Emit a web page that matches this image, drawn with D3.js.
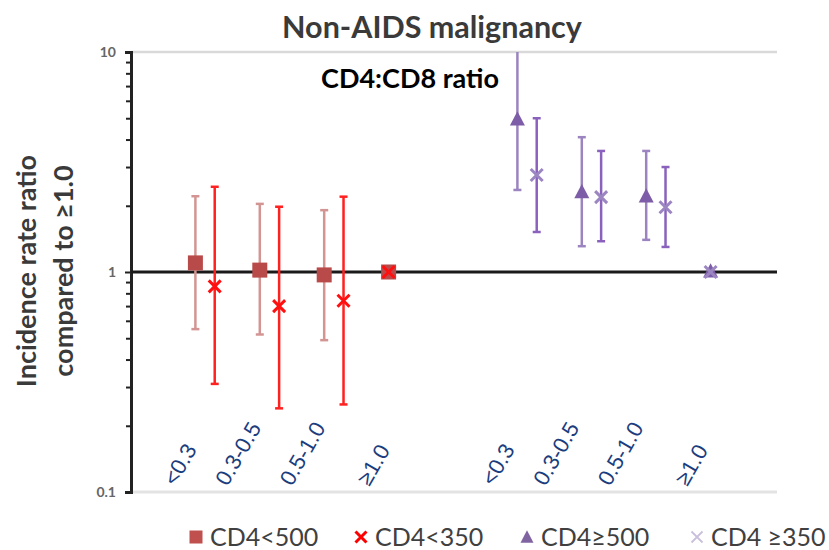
<!DOCTYPE html>
<html>
<head>
<meta charset="utf-8">
<script src="https://cdn.jsdelivr.net/npm/d3@7/dist/d3.min.js"></script>
<style>
  html, body { margin: 0; padding: 0; background: #fff; }
  svg { display: block; }
</style>
</head>
<body>
<svg id="chart" width="829" height="550"></svg>
<script>
// CD4:CD8 ratio groups, shown once per CD4 stratum pair
const ratioGroups = ["<0.3", "0.3-0.5", "0.5-1.0", "≥1.0"];

// Incidence rate ratios (reference group ≥1.0 has no interval)
const cd4Below500Est = [1.10, 1.02, 0.97, 1.0];
const cd4Below500Lo  = [0.55, 0.52, 0.49, null];
const cd4Below500Hi  = [2.21, 2.04, 1.91, null];

const cd4Below350Est = [0.86, 0.70, 0.74, 1.0];
const cd4Below350Lo  = [0.31, 0.24, 0.25, null];
const cd4Below350Hi  = [2.44, 1.98, 2.20, null];

const cd4Above500Est = [4.90, 2.29, 2.19, 1.0];
const cd4Above500Lo  = [2.36, 1.31, 1.40, null];
const cd4Above500Hi  = [10.5, 4.10, 3.55, null];

const cd4Above350Est = [2.76, 2.19, 1.97, 1.0];
const cd4Above350Lo  = [1.52, 1.38, 1.30, null];
const cd4Above350Hi  = [5.00, 3.55, 3.00, null];

const yTickValues = [0.1, 1, 10];
const yTickLabels = ["0.1", "1", "10"];

const series = [
  { name: "CD4<500", est: cd4Below500Est, lo: cd4Below500Lo, hi: cd4Below500Hi,
    block: 0, shift: 0, symbol: "square", fill: "#b84b49", bar: "#d39593" },
  { name: "CD4<350", est: cd4Below350Est, lo: cd4Below350Lo, hi: cd4Below350Hi,
    block: 0, shift: 0.3, symbol: "cross", fill: "#ff1010", bar: "#ff2020" },
  { name: "CD4≥500", est: cd4Above500Est, lo: cd4Above500Lo, hi: cd4Above500Hi,
    block: 1, shift: 0, symbol: "triangle", fill: "#7d5ca8", bar: "#9b84bf" },
  { name: "CD4 ≥350", est: cd4Above350Est, lo: cd4Above350Lo, hi: cd4Above350Hi,
    block: 1, shift: 0.3, symbol: "cross", fill: "#9c86c2", bar: "#8a62bd" }
];
const legendColors = ["#c0504d", "#ff0000", "#8064a2", "#cbc0dc"];

const svg = d3.select("#chart");
const plot = { left: 131, right: 777, top: 52, bottom: 492 };

// slots 1-4 hold the first block, 6-9 the second
const x = d3.scaleLinear().domain([0, 10]).range([plot.left, plot.left + 644]);
const y = d3.scaleLog().domain([0.1, 10]).range([plot.bottom, plot.top]).clamp(true);
const slot = (block, i) => block * 5 + i + 1;

// horizontal reference lines
svg.append("line")
  .attr("x1", plot.left).attr("x2", plot.right)
  .attr("y1", y(10)).attr("y2", y(10))
  .attr("stroke", "#d9d9d9").attr("stroke-width", 2.5);
svg.append("line")
  .attr("x1", plot.left).attr("x2", plot.right)
  .attr("y1", y(0.1)).attr("y2", y(0.1))
  .attr("stroke", "#e3e3e3").attr("stroke-width", 3);

// y axis: major ticks with labels, minor ticks between
const minorTicks = [];
[0.1, 1].forEach(d => { for (let k = 2; k <= 9; k++) minorTicks.push(d * k); });

const yMinor = svg.append("g")
  .attr("transform", `translate(${plot.left},0)`)
  .call(d3.axisLeft(y).tickValues(minorTicks).tickSize(5).tickFormat(""));
yMinor.select(".domain").remove();
yMinor.selectAll(".tick line").attr("stroke", "#222").attr("stroke-width", 2);

const yAxis = svg.append("g")
  .attr("transform", `translate(${plot.left},0)`)
  .call(d3.axisLeft(y).tickValues(yTickValues).tickSize(6).tickPadding(9)
    .tickFormat((d, i) => yTickLabels[i]));
yAxis.select(".domain").attr("stroke", "#222").attr("stroke-width", 3);
yAxis.selectAll(".tick line").attr("stroke", "#222").attr("stroke-width", 2);
yAxis.selectAll(".tick text")
  .attr("fill", "#666").attr("font-family", "Lato, sans-serif")
  .attr("font-size", 14).attr("font-weight", "bold");

// line at ratio 1
svg.append("line")
  .attr("x1", plot.left).attr("x2", plot.right)
  .attr("y1", y(1)).attr("y2", y(1))
  .attr("stroke", "#1a1a1a").attr("stroke-width", 3);

// confidence intervals
const capHalf = 4;
series.forEach(s => {
  const g = svg.append("g");
  s.est.forEach((v, i) => {
    if (s.lo[i] == null) return;
    const cx = x(slot(s.block, i) + s.shift);
    g.append("line")
      .attr("x1", cx).attr("x2", cx)
      .attr("y1", y(s.lo[i])).attr("y2", y(s.hi[i]))
      .attr("stroke", s.bar).attr("stroke-width", 2.5);
    const caps = [s.lo[i]];
    if (s.hi[i] <= 10) caps.push(s.hi[i]);
    caps.forEach(c => {
      g.append("line")
        .attr("x1", cx - capHalf).attr("x2", cx + capHalf)
        .attr("y1", y(c)).attr("y2", y(c))
        .attr("stroke", s.bar).attr("stroke-width", 2.5);
    });
  });
});

// point markers
function drawMarker(g, kind, cx, cy, size, color) {
  if (kind === "square") {
    g.append("rect")
      .attr("x", cx - size / 2).attr("y", cy - size / 2)
      .attr("width", size).attr("height", size)
      .attr("fill", color);
  } else if (kind === "triangle") {
    const h = size * 0.95;
    g.append("path")
      .attr("d", `M${cx},${cy - h * 0.62} L${cx + size / 2},${cy + h * 0.38} L${cx - size / 2},${cy + h * 0.38}Z`)
      .attr("fill", color);
  } else {
    const r = size / 2;
    g.append("path")
      .attr("d", `M${cx - r},${cy - r}L${cx + r},${cy + r}M${cx - r},${cy + r}L${cx + r},${cy - r}`)
      .attr("stroke", color).attr("stroke-width", 3).attr("fill", "none");
  }
}

series.forEach(s => {
  const g = svg.append("g");
  s.est.forEach((v, i) => {
    const isRef = s.lo[i] == null;
    const cx = x(slot(s.block, i) + (isRef ? 0 : s.shift));
    drawMarker(g, s.symbol, cx, y(v), s.symbol === "cross" ? 12 : 15, s.fill);
  });
});

// category labels along the bottom, rotated
[0, 1].forEach(block => {
  ratioGroups.forEach((lab, i) => {
    const t = svg.append("text")
      .text(lab)
      .attr("font-family", "'Liberation Sans', Arial, sans-serif")
      .attr("font-size", 22)
      .attr("fill", "#1b3d7e");
    const len = t.node().getComputedTextLength();
    const bx = x(slot(block, i)) - len * 0.5 + 2 - block * 4;
    t.attr("transform", `translate(${bx},487) rotate(-60)`);
  });
});

// titles
svg.append("text")
  .attr("x", 432).attr("y", 38)
  .attr("text-anchor", "middle")
  .attr("font-family", "Lato, sans-serif").attr("font-weight", "bold")
  .attr("font-size", 30.5).attr("fill", "#3a3a3a")
  .text("Non-AIDS malignancy");

svg.append("text")
  .attr("x", 410).attr("y", 88)
  .attr("text-anchor", "middle")
  .attr("font-family", "Lato, sans-serif").attr("font-weight", "bold")
  .attr("font-size", 27).attr("fill", "#000")
  .text("CD4:CD8 ratio");

const yTitle = svg.append("text")
  .attr("transform", "translate(44,271) rotate(-90)")
  .attr("text-anchor", "middle")
  .attr("font-family", "Lato, sans-serif").attr("font-weight", "bold")
  .attr("font-size", 27).attr("fill", "#3a3a3a");
yTitle.append("tspan").attr("x", 0).attr("dy", "-0.3em").text("Incidence rate ratio");
yTitle.append("tspan").attr("x", 0).attr("dy", "1.38em").text("compared to ≥1.0");

// legend
const legendX = [196, 361, 527, 697];
const legend = svg.append("g");
series.forEach((s, i) => {
  const cx = legendX[i], cy = 537;
  if (s.symbol === "square") drawMarker(legend, "square", cx, cy, 13, legendColors[i]);
  else if (s.symbol === "triangle") drawMarker(legend, "triangle", cx, cy + 1, 13, legendColors[i]);
  else {
    const r = 5.5;
    legend.append("path")
      .attr("d", `M${cx - r},${cy - r}L${cx + r},${cy + r}M${cx - r},${cy + r}L${cx + r},${cy - r}`)
      .attr("stroke", legendColors[i]).attr("stroke-width", i === 1 ? 3 : 1.8);
  }
  legend.append("text")
    .attr("x", cx + 14).attr("y", cy + 9)
    .attr("font-family", "Lato, sans-serif").attr("font-size", 25)
    .attr("fill", "#404040")
    .text(s.name);
});
</script>
</body>
</html>
